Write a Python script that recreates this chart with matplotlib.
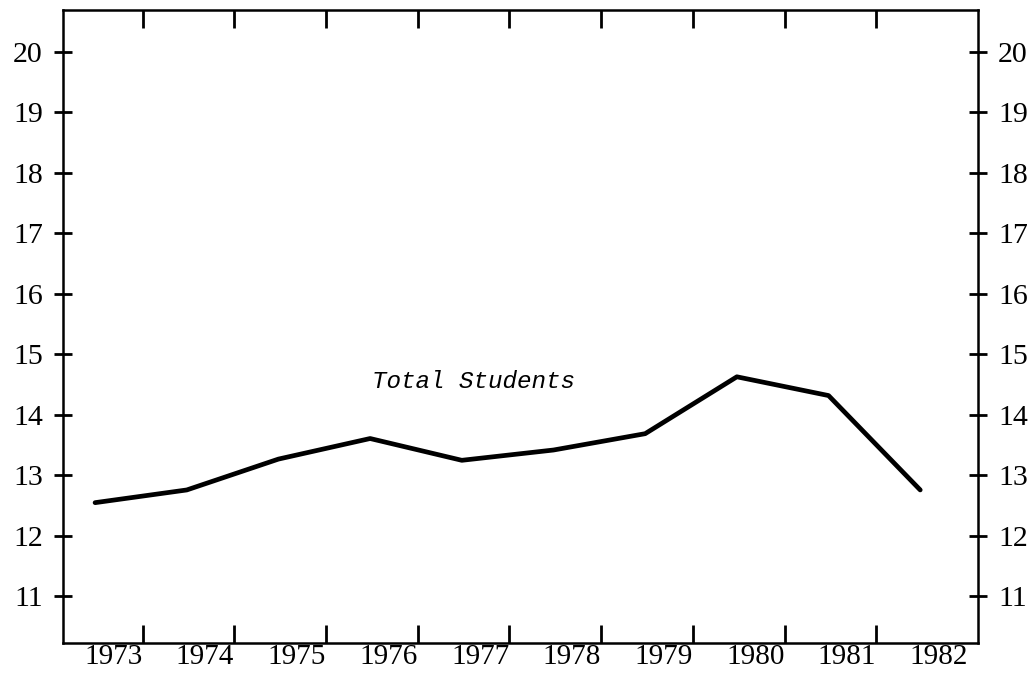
import matplotlib.pyplot as plt
from matplotlib.ticker import FixedLocator, NullFormatter

years = ['1973', '1974', '1975', '1976', '1977', '1978', '1979', '1980', '1981', '1982']
students = [12.55, 12.76, 13.27, 13.61, 13.25, 13.42, 13.69, 14.63, 14.32, 12.76]
y_ticks = [11, 12, 13, 14, 15, 16, 17, 18, 19, 20]
series_label = 'Total Students'

plt.rcParams['font.family'] = ['Liberation Serif', 'DejaVu Serif']

fig = plt.figure(figsize=(10.36, 6.73), dpi=100)
ax = fig.add_axes([0.0608, 0.0445, 0.8832, 0.9405])

x = list(range(len(years)))
ax.plot(x, students, color='black', lw=3.4, solid_capstyle='round', solid_joinstyle='round')

ax.text(4.13, 14.56, series_label, fontsize=17.5, style='italic',
        family=['Liberation Mono', 'DejaVu Sans Mono'], ha='center', va='center')

ax.set_xlim(-0.35, 9.63)
ax.set_ylim(10.23, 20.69)

# year boundaries carry the tick marks, labels sit just left of them
ax.xaxis.set_major_locator(FixedLocator([i + 0.52 for i in range(len(years) - 1)]))
ax.xaxis.set_major_formatter(NullFormatter())
ax.xaxis.set_minor_locator(FixedLocator([i + 0.2 for i in x]))
ax.set_xticklabels(years, minor=True)
ax.tick_params(axis='x', which='major', direction='in', length=13, width=2,
               top=True, bottom=True)
ax.tick_params(axis='x', which='minor', length=0, pad=1, labelsize=21)

ax.set_yticks(y_ticks)
ax.tick_params(axis='y', direction='inout', length=13, width=2, left=True, right=True,
               labelleft=True, labelright=True, labelsize=21.5, pad=8)

for s in ax.spines.values():
    s.set_linewidth(1.8)

fig.savefig('out.png', dpi=100)
